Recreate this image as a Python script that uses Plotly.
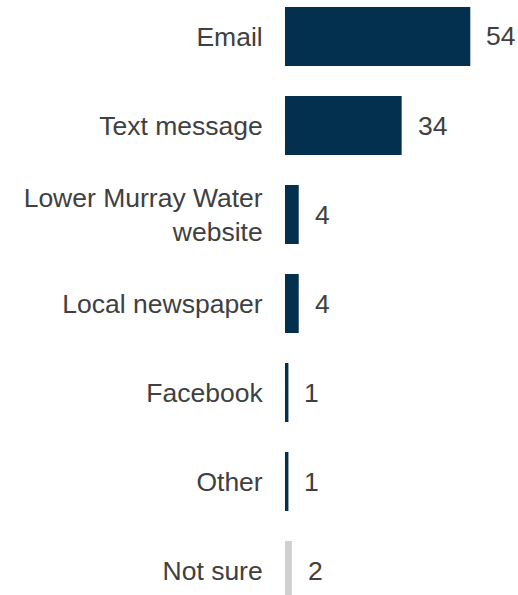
import plotly.graph_objects as go

# Survey responses: preferred communication channel (%)
channels = ["Email", "Text message", "Lower Murray Water<br>website",
            "Local newspaper", "Facebook", "Other", "Not sure"]
percent = [54, 34, 4, 4, 1, 1, 2]
bar_colors = ["#03304F", "#03304F", "#03304F", "#03304F",
              "#03304F", "#03304F", "#D0CECE"]

TEXT = "#404040"
FONT = "Liberation Sans, Arial, sans-serif"
SIZE = 26.5

fig = go.Figure(
    go.Bar(
        x=percent,
        y=channels,
        orientation="h",
        marker=dict(color=bar_colors, line=dict(width=0)),
        hoverinfo="skip",
    )
)

# value labels to the right of each bar
for cat, val in zip(channels, percent):
    fig.add_annotation(
        x=val, y=cat, text=str(val), showarrow=False,
        xanchor="left", yanchor="middle", xshift=14,
        font=dict(family=FONT, size=SIZE, color=TEXT),
    )

fig.update_layout(
    width=518,
    height=595,
    margin=dict(l=285, r=0, t=0, b=0),
    paper_bgcolor="white",
    plot_bgcolor="white",
    bargap=0.337,
    showlegend=False,
    font=dict(family=FONT, size=SIZE, color=TEXT),
    xaxis=dict(range=[0, 67.9], visible=False, fixedrange=True),
    yaxis=dict(
        categoryorder="array",
        categoryarray=channels,
        range=[6.275, -0.41],
        showgrid=False,
        zeroline=False,
        showline=False,
        ticks="outside",
        ticklen=16,
        tickcolor="rgba(0,0,0,0)",
        tickfont=dict(family=FONT, size=SIZE, color=TEXT),
        fixedrange=True,
    ),
)

fig.write_html("out.html")
